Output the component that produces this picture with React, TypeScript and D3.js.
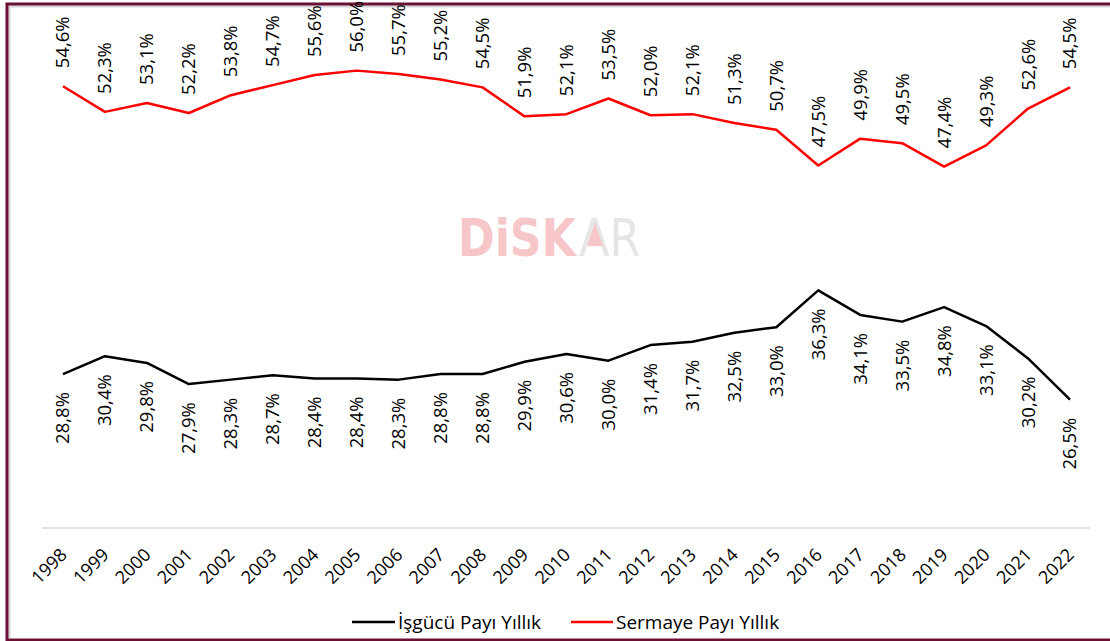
import React from "react";
import * as d3 from "d3";

const years = [
  "1998","1999","2000","2001","2002","2003","2004","2005","2006","2007","2008","2009",
  "2010","2011","2012","2013","2014","2015","2016","2017","2018","2019","2020","2021","2022",
];
const sermaye = [
  54.6, 52.3, 53.1, 52.2, 53.8, 54.7, 55.6, 56.0, 55.7, 55.2, 54.5, 51.9,
  52.1, 53.5, 52.0, 52.1, 51.3, 50.7, 47.5, 49.9, 49.5, 47.4, 49.3, 52.6, 54.5,
];
const isgucu = [
  28.8, 30.4, 29.8, 27.9, 28.3, 28.7, 28.4, 28.4, 28.3, 28.8, 28.8, 29.9,
  30.6, 30.0, 31.4, 31.7, 32.5, 33.0, 36.3, 34.1, 33.5, 34.8, 33.1, 30.2, 26.5,
];
const seriesNames = ["İşgücü Payı Yıllık", "Sermaye Payı Yıllık"];
const yDomain = [15, 60];

const W = 1110;
const H = 641;
const FONT = "'Open Sans', 'Noto Sans', sans-serif";

const fmt = (v: number) => v.toFixed(1).replace(".", ",") + "%";

export default function App() {
  const x = d3.scalePoint<string>().domain(years).range([63, 1070]);
  const y = d3.scaleLinear().domain(yDomain).range([528, 26]);

  const line = d3
    .line<number>()
    .x((_, i) => x(years[i]) as number)
    .y((d) => y(d));

  const labelSize = 18.5;

  return (
    <svg
      width={W}
      height={H}
      style={{ position: "absolute", left: 0, top: 0, display: "block", background: "#fff" }}
      fontFamily={FONT}
    >
      <rect x={0} y={0} width={W} height={H} fill="#fff" />
      {/* frame */}
      <line x1={9.5} y1={6} x2={9.5} y2={638} stroke="#d4d4d4" strokeWidth={2} />
      <line x1={9} y1={6.5} x2={W} y2={6.5} stroke="#d4d4d4" strokeWidth={2} />
      <rect x={7} y={4} width={W + 20} height={636} fill="none" stroke="#6b0f35" strokeWidth={3} />

      {/* watermark */}
      <g>
        <text
          transform="translate(458,256) scale(0.85,1)"
          fontFamily="'DejaVu Sans', sans-serif"
          fontWeight="bold"
          fontSize={52}
          fill="#f6c6c9"
        >
          DiSK
        </text>
        <text
          transform="translate(579,256) scale(0.86,1)"
          fontFamily="'DejaVu Sans', sans-serif"
          fontSize={52}
          fill="#e6e6e6"
        >
          AR
        </text>
        <polygon points="595,222 587,246 603,246" fill="#f6c6c9" />
      </g>

      {/* axis line */}
      <line x1={42} y1={528} x2={1090} y2={528} stroke="#d9d9d9" strokeWidth={1.5} />

      {/* year labels */}
      {years.map((yr) => (
        <text
          key={yr}
          transform={`translate(${(x(yr) as number) + 5},556) rotate(-45)`}
          textAnchor="end"
          fontSize={18}
          fill="#000"
        >
          {yr}
        </text>
      ))}

      {/* lines */}
      <path d={line(sermaye) || ""} fill="none" stroke="#ff0000" strokeWidth={2.5} strokeLinejoin="round" />
      <path d={line(isgucu) || ""} fill="none" stroke="#000" strokeWidth={2.5} strokeLinejoin="round" />

      {/* data labels */}
      {sermaye.map((v, i) => (
        <text
          key={"s" + i}
          transform={`translate(${x(years[i])},${y(v) - 18}) rotate(-90)`}
          textAnchor="start"
          dy="0.35em"
          fontSize={labelSize}
          fill="#000"
        >
          {fmt(v)}
        </text>
      ))}
      {isgucu.map((v, i) => (
        <text
          key={"i" + i}
          transform={`translate(${x(years[i])},${y(v) + 18}) rotate(-90)`}
          textAnchor="end"
          dy="0.35em"
          fontSize={labelSize}
          fill="#000"
        >
          {fmt(v)}
        </text>
      ))}

      {/* legend */}
      <line x1={352} y1={622} x2={395} y2={622} stroke="#000" strokeWidth={2.5} />
      <text x={398} y={628.5} fontSize={19} fill="#000">
        {seriesNames[0]}
      </text>
      <line x1={571} y1={622} x2={613} y2={622} stroke="#ff0000" strokeWidth={2.5} />
      <text x={616} y={628.5} fontSize={19} fill="#000">
        {seriesNames[1]}
      </text>
    </svg>
  );
}
